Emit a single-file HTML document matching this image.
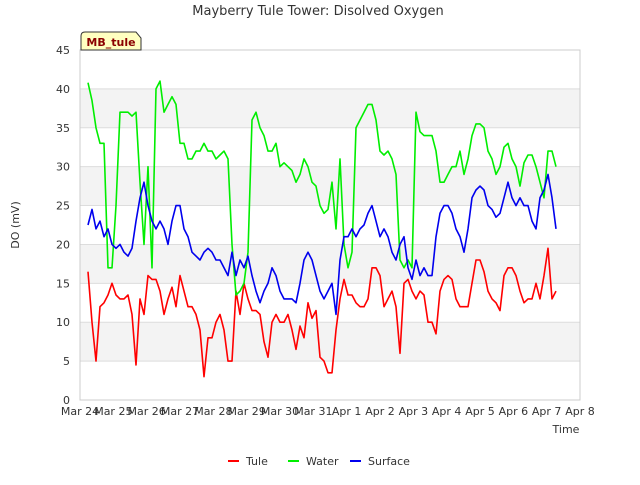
<!DOCTYPE html>
<html><head><meta charset="utf-8"><style>
body{margin:0;background:#fff;font-family:"Liberation Sans","DejaVu Sans",sans-serif}
svg text{font-family:"DejaVu Sans","Liberation Sans",sans-serif}
</style></head><body>
<svg id="c" width="640" height="480" xmlns="http://www.w3.org/2000/svg">
<rect width="640" height="480" fill="#fff"/>
<text x="318" y="15" text-anchor="middle" font-size="13" fill="#333">Mayberry Tule Tower: Disolved Oxygen</text>
<g id="bands"></g><g id="grid"></g>
<rect x="80" y="50" width="500" height="350" fill="none" stroke="#ccc"/>
<g id="axes"></g><g id="series"></g>
<path d="M81,50 L81,36 Q81,32 85,32 L136,32 L141,38 L141,50 Z" fill="#ffffc0" stroke="#333"/>
<text x="111" y="46" text-anchor="middle" font-size="11" font-weight="bold" fill="#8b0000">MB_tule</text>
<text transform="translate(19,225) rotate(-90)" text-anchor="middle" font-size="11" fill="#333">DO (mV)</text>
<text x="566" y="433" text-anchor="middle" font-size="11" fill="#333">Time</text>
<g id="legend"></g>
</svg>
<script>
const xTickLabels=["Mar 24","Mar 25","Mar 26","Mar 27","Mar 28","Mar 29","Mar 30","Mar 31","Apr 1","Apr 2","Apr 3","Apr 4","Apr 5","Apr 6","Apr 7","Apr 8"];
const yTicks=[0,5,10,15,20,25,30,35,40,45];
const seriesNames=["Tule","Water","Surface"];
const seriesColors=["#ff0000","#00ee00","#0000ee"];
const tStart=0.24, tStep=0.12;
const tule=[16.5,10,5,12,12.5,13.5,15,13.5,13,13,13.5,11,4.5,13,11,16,15.5,15.5,14,11,13,14.5,12,16,14,12,12,11,9,3,8,8,10,11,9,5,5,14,11,15,13,11.5,11.5,11,7.5,5.5,10,11,10,10,11,9,6.5,9.5,8,12.5,10.5,11.5,5.5,5,3.5,3.5,9,13,15.5,13.5,13.5,12.5,12,12,13,17,17,16,12,13,14,12,6,15,15.5,14,13,14,13.5,10,10,8.5,14,15.5,16,15.5,13,12,12,12,15,18,18,16.5,14,13,12.5,11.5,16,17,17,16,14,12.5,13,13,15,13,16,19.5,13,14];
const water=[40.8,38.5,35,33,33,17,17,25,37,37,37,36.5,37,28,20,30,17,40,41,37,38,39,38,33,33,31,31,32,32,33,32,32,31,31.5,32,31,20,13.5,14,15,19,36,37,35,34,32,32,33,30,30.5,30,29.5,28,29,31,30,28,27.5,25,24,24.5,28,22,31,20,17,19,35,36,37,38,38,36,32,31.5,32,31,29,18,17,18,17,37,34.5,34,34,34,32,28,28,29,30,30,32,29,31,34,35.5,35.5,35,32,31,29,30,32.5,33,31,30,27.5,30.5,31.5,31.5,30,28,26,32,32,30];
const surface=[22.5,24.5,22,23,21,22,20,19.5,20,19,18.5,19.5,23,26,28,25,23,22,23,22,20,23,25,25,22,21,19,18.5,18,19,19.5,19,18,18,17,16,19,16,18,17,18.5,16,14,12.5,14,15,17,16,14,13,13,13,12.5,15,18,19,18,16,14,13,14,15,11,18,21,21,22,21,22,22.5,24,25,23,21,22,21,19,18,20,21,17,15.5,18,16,17,16,16,21,24,25,25,24,22,21,19,22,26,27,27.5,27,25,24.5,23.5,24,26,28,26,25,26,25,25,23,22,26,27,29,26,22];
const allSeries=[tule,water,surface];
const X0=80,X1=580,Y0=400,Y1=50;
const xs=d=>X0+(d/15)*(X1-X0);
const ys=v=>Y0-(v/45)*(Y0-Y1);
const NS="http://www.w3.org/2000/svg";
function mk(tag,attrs,parent){const e=document.createElementNS(NS,tag);for(const k in attrs)e.setAttribute(k,attrs[k]);parent.appendChild(e);return e;}
const bands=document.getElementById('bands'),grid=document.getElementById('grid'),axes=document.getElementById('axes'),ser=document.getElementById('series'),leg=document.getElementById('legend');
for(let i=0;i<yTicks.length-1;i++){
  if(i%2===1){const r=mk('rect',{x:X0,y:ys(yTicks[i+1]),width:X1-X0,height:ys(yTicks[i])-ys(yTicks[i+1]),fill:'#f3f3f3'},bands);
  
  }
}
yTicks.forEach(v=>{
  const l=mk('line',{x1:X0,x2:X1,y1:ys(v),y2:ys(v),stroke:'#ddd'},grid);
  
  
  const t=mk('text',{x:X0-10,y:ys(v)+4,'text-anchor':'end','font-size':11,fill:'#333'},axes);t.textContent=v;
  
  
});
xTickLabels.forEach((s,i)=>{
  const t=mk('text',{x:xs(i),y:415,'text-anchor':'middle','font-size':11,fill:'#333'},axes);t.textContent=s;
  
  
});
allSeries.forEach((arr,si)=>{
  const pts=arr.map((v,k)=>xs(tStart+k*tStep).toFixed(1)+','+ys(v).toFixed(1)).join(' ');
  const p=mk('polyline',{points:pts,fill:'none',stroke:seriesColors[si],'stroke-width':1.6,'stroke-linejoin':'round'},ser);
  
  
});
const lx=[228,288,350];
seriesNames.forEach((n,i)=>{
  const g=mk('g',{},leg);
  
  
  mk('line',{x1:lx[i],x2:lx[i]+11,y1:461,y2:461,stroke:seriesColors[i],'stroke-width':2},g);
  const t=mk('text',{x:lx[i]+18,y:465,'font-size':11,fill:'#333'},g);t.textContent=n;
});
</script>
</body></html>
